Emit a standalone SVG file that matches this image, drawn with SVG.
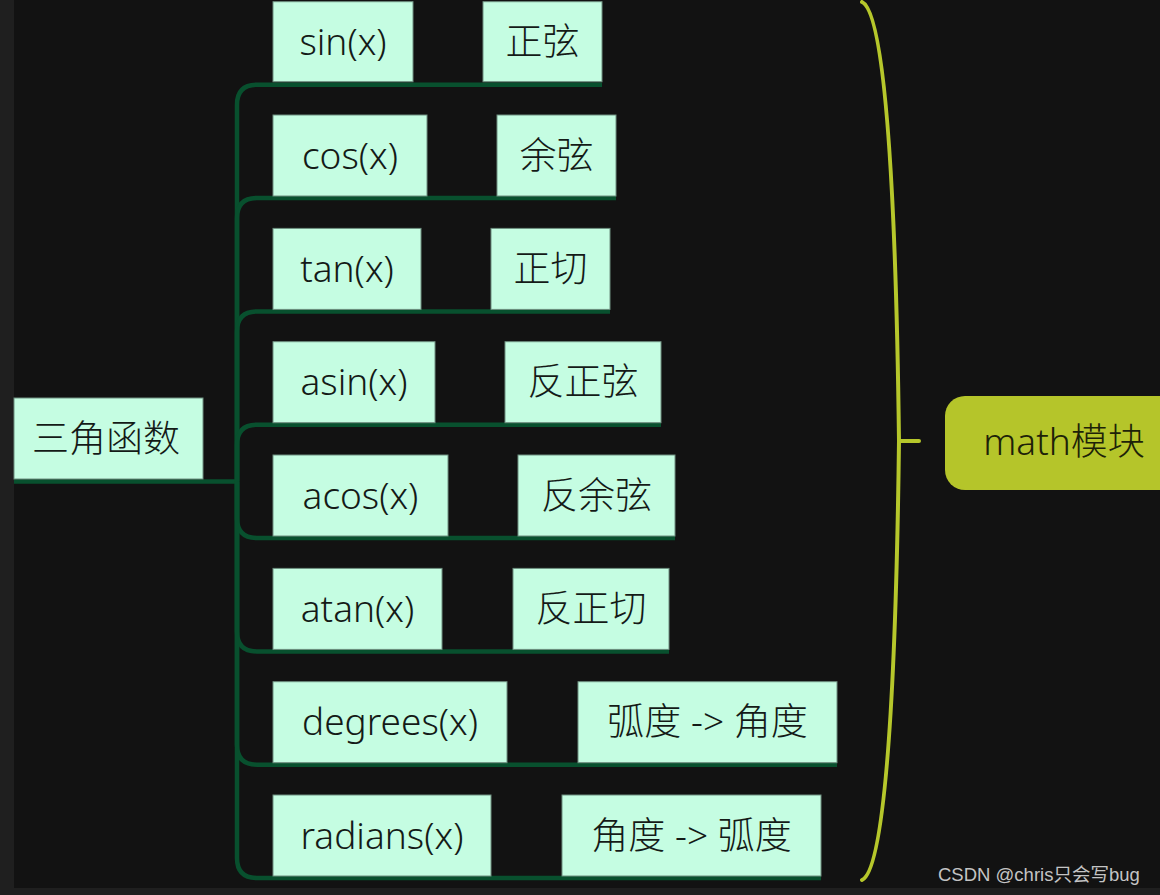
<svg xmlns="http://www.w3.org/2000/svg" width="1160" height="895" viewBox="0 0 1160 895">
<style>
.bg{fill:#121212}
.strip{fill:#1f1f1f}
.box{fill:#c5fde2;stroke:#6e8f80;stroke-width:1}
.t{font-family:"Noto Sans","Noto Sans CJK SC",sans-serif;font-size:37px;font-weight:300;fill:#141a17;text-anchor:middle}
.c{fill:none;stroke:#08502e;stroke-width:4.5;stroke-linecap:butt}
.brace{fill:none;stroke:#b6c72b;stroke-width:4;stroke-linecap:round}
.root{fill:#b5c52a}
.wm{font-family:"Liberation Sans","Noto Sans CJK SC",sans-serif;font-size:18.5px;fill:#c4c4c4}
</style>
<rect class="bg" x="0" y="0" width="1160" height="895"/>
<rect class="strip" x="0" y="0" width="14" height="895"/>
<rect class="strip" x="0" y="888" width="1160" height="7"/>

<g id="connectors">
<path class="c" d="M14,481.4 H237"/>
<path class="c" d="M237,481.4 V104.7 Q237,84.7 257,84.7 H602"/>
<path class="c" d="M237,481.4 V218 Q237,198 257,198 H616"/>
<path class="c" d="M237,481.4 V331.4 Q237,311.4 257,311.4 H610"/>
<path class="c" d="M237,481.4 V444.7 Q237,424.7 257,424.7 H661"/>
<path class="c" d="M237,481.4 V518 Q237,538 257,538 H675"/>
<path class="c" d="M237,481.4 V631.4 Q237,651.4 257,651.4 H669"/>
<path class="c" d="M237,481.4 V744.7 Q237,764.7 257,764.7 H837"/>
<path class="c" d="M237,481.4 V858 Q237,878 257,878 H821"/>
<path class="brace" d="M862,2 C880,10 895,120 899,441 C895,762 880,872 862,880"/>
<path class="brace" d="M899,441 H919"/>
</g>

<g id="node-root-sanjiao">
<rect class="box" x="14" y="398" width="189" height="81"/>
<text class="t" x="106" y="452">三角函数</text>
</g>

<g id="node-sin">
<rect class="box" x="273" y="1.7" width="140" height="80"/>
<text class="t" x="343" y="55">sin(x)</text>
</g>
<g id="node-zhengxian">
<rect class="box" x="483" y="1.7" width="119" height="80"/>
<text class="t" x="542.5" y="55">正弦</text>
</g>

<g id="node-cos">
<rect class="box" x="273" y="115" width="154" height="81"/>
<text class="t" x="350" y="168.5">cos(x)</text>
</g>
<g id="node-yuxian">
<rect class="box" x="497" y="115" width="119" height="81"/>
<text class="t" x="556.5" y="168.5">余弦</text>
</g>

<g id="node-tan">
<rect class="box" x="273" y="228.4" width="148" height="81"/>
<text class="t" x="347" y="281.9">tan(x)</text>
</g>
<g id="node-zhengqie">
<rect class="box" x="491" y="228.4" width="119" height="81"/>
<text class="t" x="550.5" y="281.9">正切</text>
</g>

<g id="node-asin">
<rect class="box" x="273" y="341.7" width="162" height="81"/>
<text class="t" x="354" y="395.2">asin(x)</text>
</g>
<g id="node-fanzhengxian">
<rect class="box" x="505" y="341.7" width="156" height="81"/>
<text class="t" x="583" y="395.2">反正弦</text>
</g>

<g id="node-acos">
<rect class="box" x="273" y="455" width="175" height="81"/>
<text class="t" x="360.5" y="508.5">acos(x)</text>
</g>
<g id="node-fanyuxian">
<rect class="box" x="518" y="455" width="157" height="81"/>
<text class="t" x="596.5" y="508.5">反余弦</text>
</g>

<g id="node-atan">
<rect class="box" x="273" y="568.4" width="169" height="81"/>
<text class="t" x="357.5" y="621.9">atan(x)</text>
</g>
<g id="node-fanzhengqie">
<rect class="box" x="513" y="568.4" width="156" height="81"/>
<text class="t" x="591" y="621.9">反正切</text>
</g>

<g id="node-degrees">
<rect class="box" x="273" y="681.7" width="234" height="81"/>
<text class="t" x="390" y="735.2">degrees(x)</text>
</g>
<g id="node-hudu-jiaodu">
<rect class="box" x="578" y="681.7" width="259" height="81"/>
<text class="t" x="707.5" y="735.2">弧度 -&gt; 角度</text>
</g>

<g id="node-radians">
<rect class="box" x="273" y="795" width="218" height="81"/>
<text class="t" x="382" y="848.5">radians(x)</text>
</g>
<g id="node-jiaodu-hudu">
<rect class="box" x="562" y="795" width="259" height="81"/>
<text class="t" x="691.5" y="848.5">角度 -&gt; 弧度</text>
</g>

<g id="node-math">
<rect class="root" x="945" y="396" width="240" height="94" rx="20" ry="20"/>
<text class="t" x="1064" y="455" style="fill:#1d2208">math模块</text>
</g>

<text class="wm" x="938" y="881">CSDN @chris只会写bug</text>
</svg>
